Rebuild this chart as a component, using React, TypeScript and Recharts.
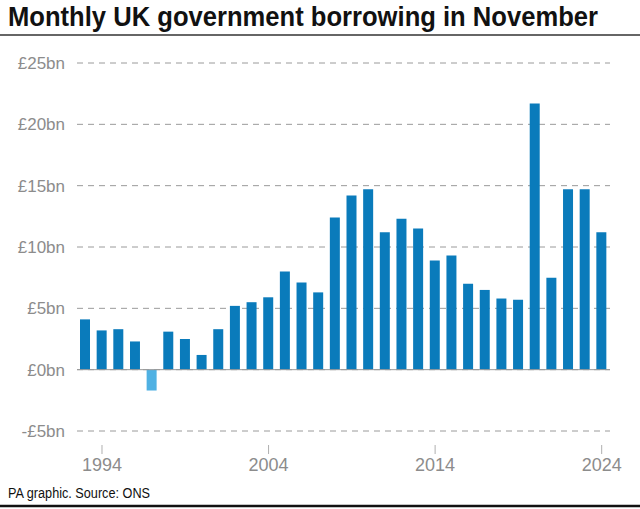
import React from "react";
import { Bar, BarChart, CartesianGrid, Cell, ReferenceLine, XAxis, YAxis } from "recharts";

const years = [
  "1993", "1994", "1995", "1996", "1997", "1998", "1999", "2000",
  "2001", "2002", "2003", "2004", "2005", "2006", "2007", "2008",
  "2009", "2010", "2011", "2012", "2013", "2014", "2015", "2016",
  "2017", "2018", "2019", "2020", "2021", "2022", "2023", "2024"
];

// £bn, November each year
const borrowing = [
  4.1, 3.2, 3.3, 2.3, -1.7, 3.1, 2.5, 1.2,
  3.3, 5.2, 5.5, 5.9, 8.0, 7.1, 6.3, 12.4,
  14.2, 14.7, 11.2, 12.3, 11.5, 8.9, 9.3, 7.0,
  6.5, 5.8, 5.7, 21.7, 7.5, 14.7, 14.7, 11.2
];

const yTicks = [-5, 0, 5, 10, 15, 20, 25];
const labelledYears = ["1994", "2004", "2014", "2024"];

const data = years.map((year, i) => ({ year, value: borrowing[i] }));

const FONT = "'Liberation Sans', Arial, sans-serif";
const GREY = "#8c8c8c";

function YearTick(props: any) {
  const { x, y, payload } = props;
  if (!labelledYears.includes(payload.value)) return <g />;
  return (
    <g>
      <line x1={x} x2={x} y1={y + 12} y2={y + 21} stroke="#b0b0b0" strokeWidth={1} />
      <text x={x} y={y + 38} textAnchor="middle" fontSize={18} fill={GREY} fontFamily={FONT}>
        {payload.value}
      </text>
    </g>
  );
}

const fmtBn = (v: number) => (v < 0 ? `-£${-v}bn` : `£${v}bn`);

export default function App() {
  return (
    <div style={{ position: "absolute", left: 0, top: 0, width: 640, height: 509, background: "#fff" }}>
      <BarChart
        width={640}
        height={481}
        data={data}
        margin={{ top: 63, right: 30, left: 0, bottom: 0 }}
        style={{ position: "absolute", left: 0, top: 0 }}
      >
        <CartesianGrid vertical={false} stroke="#9a9a9a" strokeDasharray="6 5" />
        <XAxis
          dataKey="year"
          interval={0}
          axisLine={false}
          tickLine={false}
          tickSize={0}
          height={50}
          tick={<YearTick />}
        />
        <YAxis
          width={77}
          domain={[-5, 25]}
          ticks={yTicks}
          axisLine={false}
          tickLine={false}
          tickSize={0}
          tickMargin={12}
          tickFormatter={fmtBn}
          tick={{ fontSize: 17, fill: GREY, fontFamily: FONT }}
        />
        <ReferenceLine y={0} stroke="#9a9a9a" strokeWidth={1} />
        <Bar dataKey="value" barSize={10} isAnimationActive={false}>
          {data.map((d) => (
            <Cell key={d.year} fill={d.value < 0 ? "#4fb1e3" : "#0a7bbb"} />
          ))}
        </Bar>
      </BarChart>
      <svg width={640} height={509} style={{ position: "absolute", left: 0, top: 0, pointerEvents: "none" }}>
        <text
          x={8}
          y={26}
          fontSize={27}
          fontWeight={700}
          fill="#111"
          fontFamily={FONT}
          textLength={590}
          lengthAdjust="spacingAndGlyphs"
        >
          Monthly UK government borrowing in November
        </text>
        <line x1={0} x2={640} y1={35} y2={35} stroke="#333" strokeWidth={1.5} />
        <text
          x={8}
          y={498}
          fontSize={14}
          fill="#111"
          fontFamily={FONT}
          textLength={142}
          lengthAdjust="spacingAndGlyphs"
        >
          PA graphic. Source: ONS
        </text>
        <line x1={0} x2={640} y1={506} y2={506} stroke="#111" strokeWidth={2.5} />
      </svg>
    </div>
  );
}
